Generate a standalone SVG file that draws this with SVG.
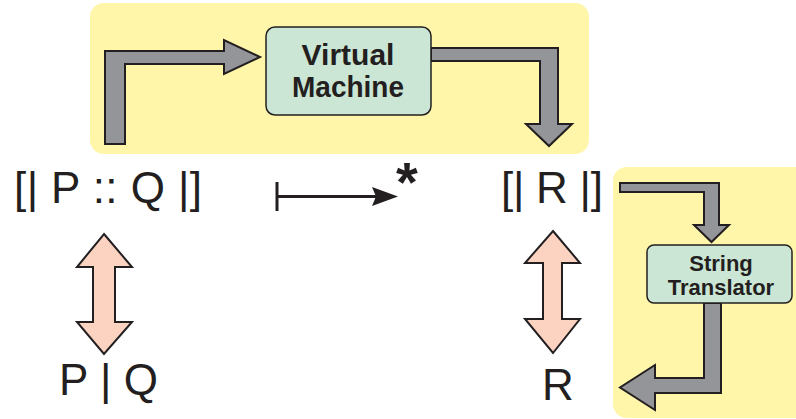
<svg xmlns="http://www.w3.org/2000/svg" width="796" height="419" viewBox="0 0 796 419">
  <style>
    .panel { fill: #fff6aa; }
    .box { fill: #cce6d6; stroke: #231f20; stroke-width: 1.5; }
    .flow { fill: #939598; stroke: #231f20; stroke-width: 2; stroke-linejoin: miter; }
    .equiv { fill: #fcd3c1; stroke: #231f20; stroke-width: 2; }
    .term { font-family: "Liberation Sans", Arial, sans-serif; font-size: 44px; fill: #231f20; }
    .label { font-family: "Liberation Sans", Arial, sans-serif; font-weight: bold; fill: #231f20; text-anchor: middle; }
  </style>

  <!-- background panels -->
  <rect class="panel" x="90" y="3" width="499" height="151" rx="14"/>
  <rect class="panel" x="613" y="167" width="200" height="251" rx="14"/>

  <g id="connectors">
    <!-- into the virtual machine -->
    <polygon class="flow" points="105,144 105,51 224,51 224,40 260,57 224,74 224,64 125,64 125,144"/>
    <!-- out of the virtual machine -->
    <polygon class="flow" points="431,48 558,48 558,124 572,124 549,146 526,124 540,124 540,61 431,61"/>
    <!-- into the string translator -->
    <polygon class="flow" points="620,183 719,183 719,225 729,225 711.5,242 694,225 704,225 704,192 620,192"/>
    <!-- out of the string translator -->
    <polygon class="flow" points="704,303 721,303 721,393 655,393 655,410 620,387.5 655,365 655,378 704,378"/>
    <!-- correspondence arrows -->
    <polygon class="equiv" points="104,234 132,267 115,267 115,322 132,322 104,354 77,322 93,322 93,267 77,267"/>
    <polygon class="equiv" points="553,231 580,263 562,263 562,319 580,319 553,353 525,319 543,319 543,263 525,263"/>
    <!-- reduction arrow -->
    <line x1="277" y1="182" x2="277" y2="211" stroke="#231f20" stroke-width="3"/>
    <line x1="277" y1="196.5" x2="380" y2="196.5" stroke="#231f20" stroke-width="3"/>
    <polygon points="372,187 398,196.5 372,206 376,196.5" fill="#231f20"/>
    <text x="407" y="201" class="label" font-size="56">*</text>
  </g>

  <g id="virtual-machine">
    <rect class="box" x="266" y="27" width="165" height="88" rx="9"/>
    <text class="label" x="348" y="65" font-size="30">Virtual</text>
    <text class="label" x="348" y="97" font-size="30" textLength="112" lengthAdjust="spacingAndGlyphs">Machine</text>
  </g>

  <g id="string-translator">
    <rect class="box" x="647" y="245" width="145" height="58" rx="7"/>
    <text class="label" x="721" y="271" font-size="22">String</text>
    <text class="label" x="721" y="295" font-size="22">Translator</text>
  </g>

  <g id="program">
    <text class="term" x="14" y="203" textLength="188">[| P :: Q |]</text>
  </g>

  <g id="result">
    <text class="term" x="501" y="203" textLength="102">[| R |]</text>
  </g>

  <g id="parallel">
    <text class="term" x="59" y="395" textLength="99">P | Q</text>
  </g>

  <g id="value">
    <text class="term" x="542" y="400" font-size="41px">R</text>
  </g>
</svg>
